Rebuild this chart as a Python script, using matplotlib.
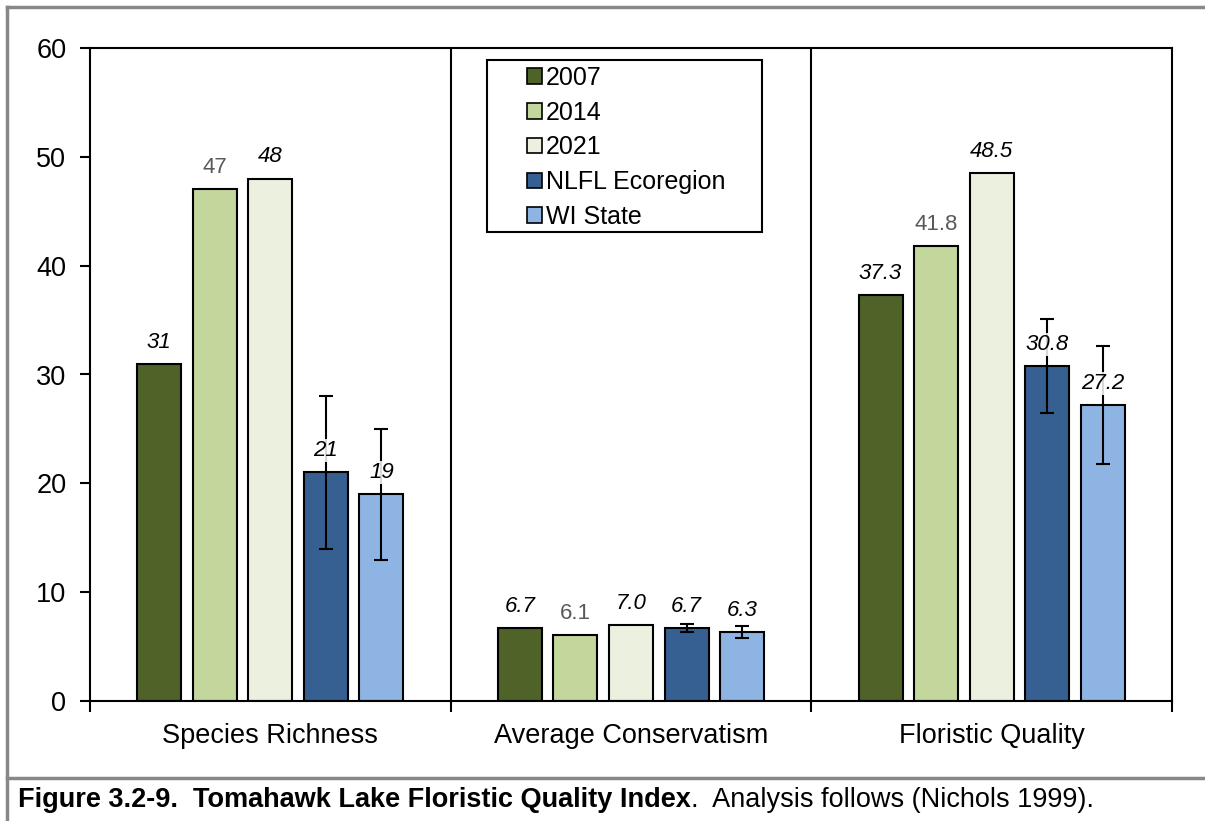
import numpy as np
import matplotlib
matplotlib.use("Agg")
import matplotlib.pyplot as plt
from matplotlib.lines import Line2D
from matplotlib.patches import Rectangle

plt.rcParams['font.family'] = ['Liberation Sans', 'DejaVu Sans']

categories = ["Species Richness", "Average Conservatism", "Floristic Quality"]
series = ["2007", "2014", "2021", "NLFL Ecoregion", "WI State"]
values = {
    "2007": [31, 6.7, 37.3],
    "2014": [47, 6.1, 41.8],
    "2021": [48, 7.0, 48.5],
    "NLFL Ecoregion": [21, 6.7, 30.8],
    "WI State": [19, 6.3, 27.2],
}
errors = {
    "NLFL Ecoregion": [7, 0.4, 4.3],
    "WI State": [6, 0.55, 5.4],
}
labels = {
    "2007": ["31", "6.7", "37.3"],
    "2014": ["47", "6.1", "41.8"],
    "2021": ["48", "7.0", "48.5"],
    "NLFL Ecoregion": ["21", "6.7", "30.8"],
    "WI State": ["19", "6.3", "27.2"],
}
colors = ["#4F6228", "#C3D69B", "#EBF1DE", "#376092", "#8EB4E3"]

W, H = 1205, 821
fig = plt.figure(figsize=(W / 100, H / 100), dpi=100)
ax = fig.add_axes([90 / W, 1 - 701 / H, (1172 - 90) / W, (701 - 48) / H])

x = np.arange(len(categories))
width = 0.122
step = 0.154
for i, (name, col) in enumerate(zip(series, colors)):
    pos = x + (i - 2) * step
    vals = values[name]
    ax.bar(pos, vals, width, color=col, edgecolor="black", linewidth=1.5,
           label=name, zorder=2)
    if name in errors:
        ax.errorbar(pos, vals, yerr=errors[name], fmt="none", ecolor="black",
                    elinewidth=1.5, capsize=5, capthick=1.5, zorder=3)
    for p, v, txt in zip(pos, vals, labels[name]):
        if name == "2014":
            kw = dict(color="#595959", style="normal")
        else:
            kw = dict(color="black", style="italic")
        ax.annotate(txt, (p, v), xytext=(0, 8), textcoords="offset points",
                    ha="center", va="bottom", fontsize=16, zorder=4,
                    bbox=dict(boxstyle="square,pad=0.05", fc="white",
                              ec="none", alpha=0.85 if name in errors else 0),
                    **kw)

ax.set_xlim(-0.5, 2.5)
ax.set_ylim(0, 60)
ax.set_yticks(range(0, 61, 10))
ax.set_xticks(x)
ax.set_xticklabels(categories)
ax.set_xticks([-0.5, 0.5, 1.5, 2.5], minor=True)
ax.tick_params(axis="x", which="major", length=0, labelsize=19.5, pad=16)
ax.tick_params(axis="x", which="minor", length=8, width=1.5, direction="out")
ax.tick_params(axis="y", length=7, width=1.5, labelsize=19.5, pad=10)
for sp in ax.spines.values():
    sp.set_linewidth(1.5)
for b in (0.5, 1.5):
    ax.axvline(b, color="black", linewidth=1.5, zorder=1)

# legend box is wider than its entries, so the frame is drawn separately
frame = Rectangle((487 / W, 1 - 232 / H), (762 - 487) / W, (232 - 60) / H,
                  transform=fig.transFigure, fc="white", ec="black", lw=1.5,
                  zorder=5, clip_on=False)
ax.add_artist(frame)
leg = ax.legend(loc="upper left", bbox_to_anchor=(527 / W, 1 - 66 / H),
                bbox_transform=fig.transFigure, fontsize=18, frameon=False,
                handlelength=0.58, handleheight=0.58, handletextpad=0.18,
                labelspacing=0.43, borderpad=0, borderaxespad=0)
leg.set_zorder(6)
for h in leg.legend_handles:
    h.set_linewidth(1.2)

# outer frame and caption separator
gray = "#888888"
fig.add_artist(Line2D([7 / W, 7 / W], [0, 1 - 7 / H], color=gray, lw=2.5))
fig.add_artist(Line2D([7 / W, 1], [1 - 7 / H, 1 - 7 / H], color=gray, lw=2.5))
fig.add_artist(Line2D([7 / W, 1], [1 - 778 / H, 1 - 778 / H], color=gray, lw=2.5))

cap_y = 1 - 800 / H
t1 = fig.text(18 / W, cap_y, "Figure 3.2-9.  Tomahawk Lake Floristic Quality Index",
              fontsize=19.5, fontweight="bold", va="center", ha="left")
fig.canvas.draw()
bb = t1.get_window_extent()
fig.text(bb.x1 / fig.bbox.width, cap_y, ".  Analysis follows (Nichols 1999).",
         fontsize=19.5, va="center", ha="left")

fig.savefig("out.png", dpi=100)
